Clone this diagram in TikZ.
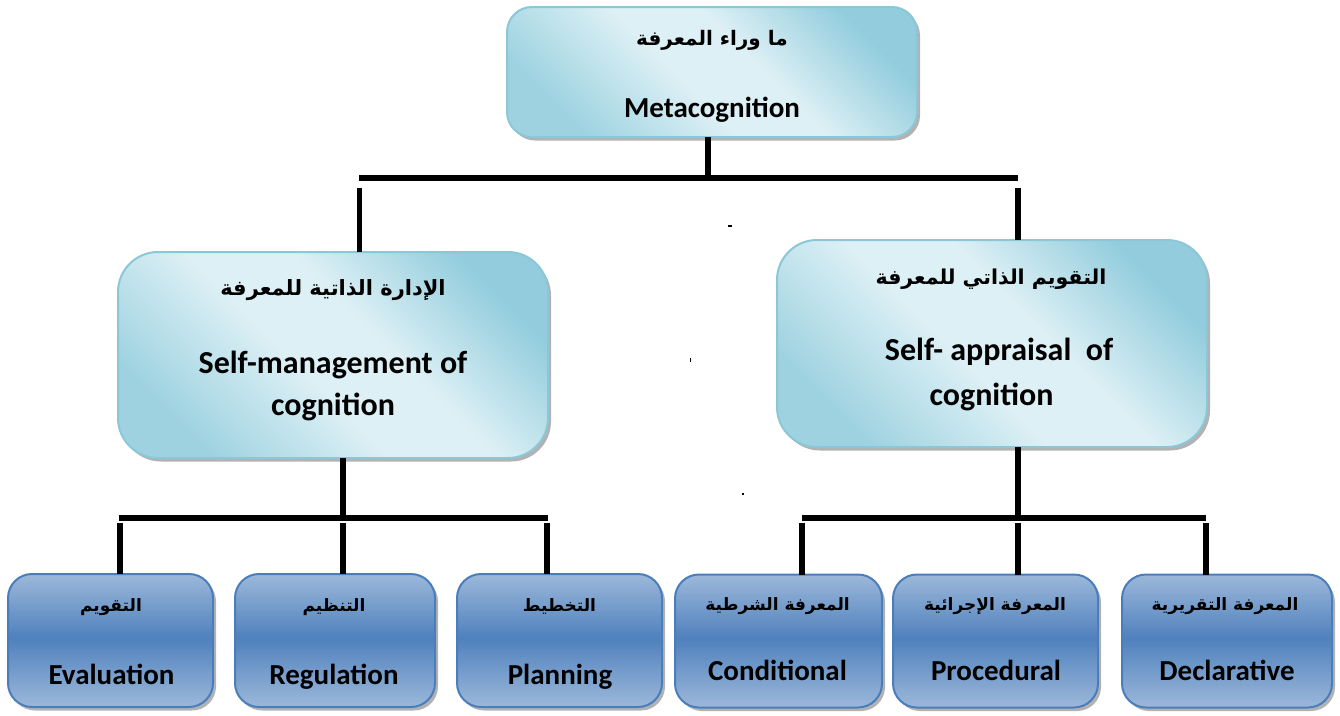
\documentclass[tikz,border=0pt]{standalone}
\usepackage{fontspec}
\setmainfont{Carlito}
\newfontfamily\arabicfont[Script=Arabic]{DejaVu Sans}
\TeXXeTstate=1
\usetikzlibrary{shadows}

\definecolor{aqLight}{HTML}{DDF0F5}
\definecolor{aqDark}{HTML}{93CDDD}
\definecolor{aqEdge}{HTML}{8CC7D7}
\definecolor{blLight}{HTML}{9CB8DA}
\definecolor{blDark}{HTML}{4F81BD}
\definecolor{blEdge}{HTML}{4A7EBB}

% soft diagonal glow for the upper boxes
\pgfdeclarehorizontalshading{aqglow}{100bp}{color(0bp)=(aqDark!85!aqLight); color(25bp)=(aqDark!85!aqLight); color(45bp)=(aqLight); color(57bp)=(aqLight); color(75bp)=(aqDark); color(100bp)=(aqDark)}
% light-dark-light band for the lower boxes
\pgfdeclareverticalshading{bluebar}{100bp}{color(0bp)=(blLight); color(25bp)=(blLight); color(51bp)=(blDark); color(75bp)=(blLight); color(100bp)=(blLight)}

\tikzset{
  conn/.style={line width=5.5pt, black},
  boxshadow/.style={drop shadow={shadow xshift=3pt, shadow yshift=-3.5pt, fill=black!55, opacity=0.55}},
  cyanbox/.style={draw=aqEdge, line width=2pt, rounded corners=#1, shading=aqglow, shading angle=45,
    boxshadow, inner sep=0pt, outer sep=0pt},
  bluebox/.style={draw=blEdge, line width=2pt, rounded corners=24pt, shading=bluebar,
    boxshadow, inner sep=0pt, outer sep=0pt, minimum height=133pt},
  entext/.style={font=\fontsize{#1}{#1}\selectfont\bfseries, anchor=base, inner sep=0pt},
  artext/.style={font=\fontsize{#1}{#1}\selectfont\arabicfont\bfseries, anchor=base, inner sep=0pt},
}

\begin{document}
\begin{tikzpicture}[x=1pt, y=-1pt]
\useasboundingbox (0,0) rectangle (1340,715);

% ---------- boxes ----------
\node[cyanbox=25pt, minimum width=410pt, minimum height=130pt] (top)  at (712,72) {};
\node[cyanbox=40pt, minimum width=430pt, minimum height=206pt] (mgmt) at (333,355) {};
\node[cyanbox=40pt, minimum width=430pt, minimum height=207pt] (appr) at (992,343.5) {};

\node[bluebox, minimum width=205pt] (eval) at (110.5,640.5) {};
\node[bluebox, minimum width=200pt] (reg)  at (335,640.5) {};
\node[bluebox, minimum width=205pt] (plan) at (559.5,640.5) {};
\node[bluebox, minimum width=207pt] (cond) at (778.5,641) {};
\node[bluebox, minimum width=205pt] (proc) at (995.5,641) {};
\node[bluebox, minimum width=210pt] (decl) at (1227,641) {};

% ---------- texts ----------
\node[artext=20] (topAr) at (712,45) {\beginR ما وراء المعرفة\endR};
\node[entext=29] (topEn) at (712,117) {Metacognition};

\node[artext=21] (mgmtAr) at (333,295) {\beginR الإدارة الذاتية للمعرفة\endR};
\node[entext=32] (mgmtEn) at (333,373) {Self-management of};
\node[entext=32] (mgmtEnB) at (333,415) {cognition};

\node[artext=20.5] (apprAr) at (991,284) {\beginR التقويم الذاتي للمعرفة\endR};
\node[entext=32] (apprEn) at (999,360) {Self- appraisal\ \ of};
\node[entext=32] (apprEnB) at (991.5,405) {cognition};

\node[artext=17] (evalAr) at (111,611) {\beginR التقويم\endR};
\node[entext=29] (evalEn) at (111.5,684) {Evaluation};
\node[artext=17] (regAr)  at (334,611) {\beginR التنظيم\endR};
\node[entext=29] (regEn)  at (334,684) {Regulation};
\node[artext=17] (planAr) at (559.5,611) {\beginR التخطيط\endR};
\node[entext=29] (planEn) at (560,684) {Planning};
\node[artext=17] (condAr) at (777.5,610) {\beginR المعرفة الشرطية\endR};
\node[entext=29] (condEn) at (777.5,680) {Conditional};
\node[artext=17] (procAr) at (995,610) {\beginR المعرفة الإجرائية\endR};
\node[entext=29] (procEn) at (996,680) {Procedural};
\node[artext=17] (declAr) at (1225,610) {\beginR المعرفة التقريرية\endR};
\node[entext=29] (declEn) at (1227,680) {Declarative};

% ---------- connectors ----------
\coordinate (hubTop) at (708,178);
\coordinate (busTopL) at (359,178);
\coordinate (busTopR) at (1018,178);
\coordinate (dropMgmt) at (359.5,188);
\coordinate (dropAppr) at (1018,188);
\draw[conn] (top.south -| hubTop) -- (hubTop);
\draw[conn] (busTopL) -- (busTopR);
\draw[conn] (dropMgmt) -- (dropMgmt |- mgmt.north);
\draw[conn] (dropAppr) -- (dropAppr |- appr.north);

% left branch
\coordinate (hubL) at (343,518);
\coordinate (busLA) at (119,518);
\coordinate (busLB) at (548,518);
\draw[conn] (mgmt.south -| hubL) -- (hubL);
\draw[conn] (busLA) -- (busLB);
\coordinate (dEval) at (120,523);
\coordinate (dReg)  at (343,523);
\coordinate (dPlan) at (547,523);
\draw[conn] (dEval) -- (dEval |- eval.north);
\draw[conn] (dReg)  -- (dReg |- reg.north);
\draw[conn] (dPlan) -- (dPlan |- plan.north);

% right branch
\coordinate (hubR) at (1018,518);
\coordinate (busRA) at (802,518);
\coordinate (busRB) at (1206,518);
\draw[conn] (appr.south -| hubR) -- (hubR);
\draw[conn] (busRA) -- (busRB);
\coordinate (dCond) at (802,523);
\coordinate (dProc) at (1018,523);
\coordinate (dDecl) at (1206,523);
\draw[conn] (dCond) -- (dCond |- cond.north);
\draw[conn] (dProc) -- (dProc |- proc.north);
\draw[conn] (dDecl) -- (dDecl |- decl.north);

% stray specks
\fill (728,225) rectangle (732,227);
\fill (689.5,358) rectangle (691,362);
\fill (742,493) rectangle (744,495);
\end{tikzpicture}
\end{document}
